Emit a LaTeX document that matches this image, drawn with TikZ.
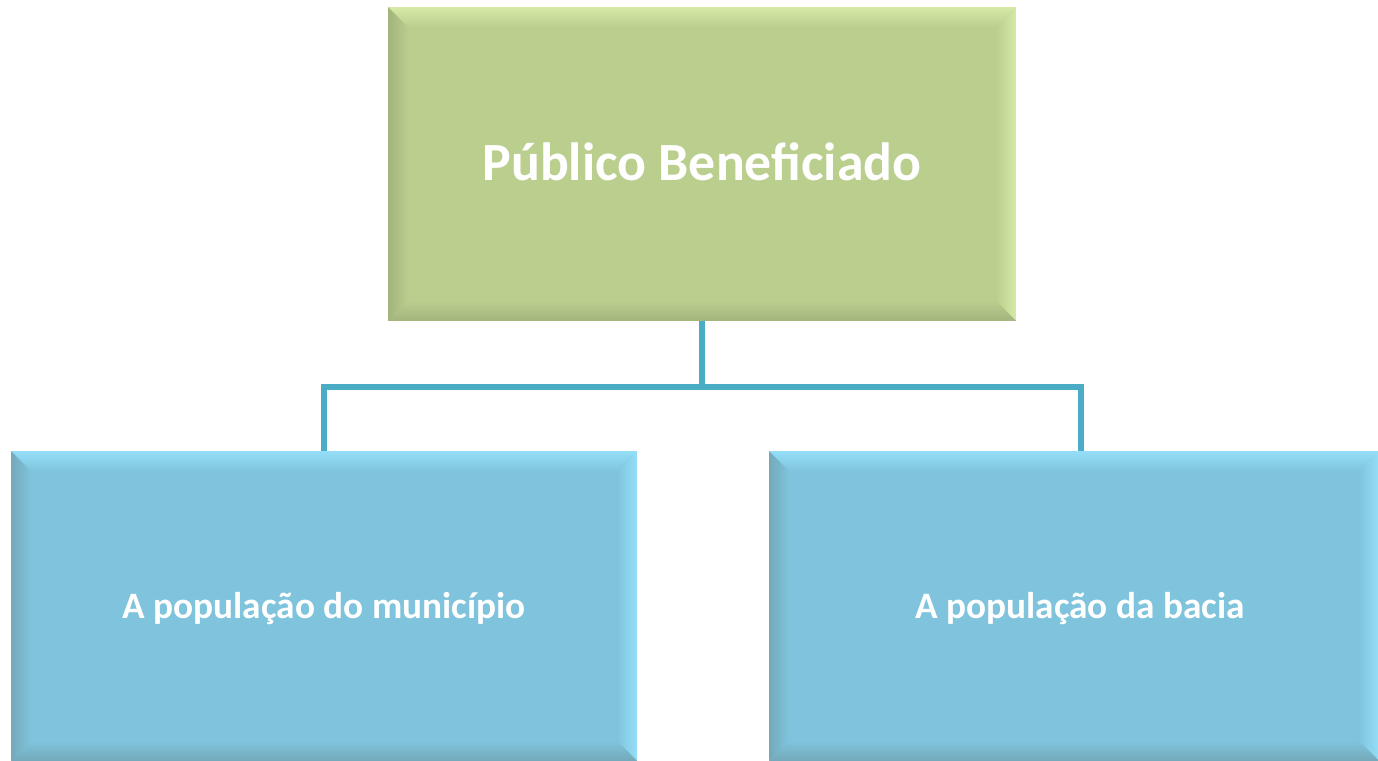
\documentclass[tikz,border=0pt]{standalone}
\usepackage{fontspec}
\setmainfont{Carlito}
\usetikzlibrary{calc}

\definecolor{leafmain}{HTML}{BACE8E}
\definecolor{leaflight}{HTML}{D6EAA6}
\definecolor{leafdark}{HTML}{A3B47C}
\definecolor{skymain}{HTML}{7FC4DC}
\definecolor{skylight}{HTML}{95DEF8}
\definecolor{skydark}{HTML}{74A9BA}
\definecolor{linkline}{HTML}{4BACC6}

\tikzset{
  boxbase/.style={rectangle, inner sep=0pt, text=white, draw=gray!30, line width=0.4pt},
  headbox/.style={boxbase, fill=leafmain, minimum width=6.26cm, minimum height=3.12cm,
    font=\bfseries\fontsize{15.3}{18}\selectfont},
  itembox/.style={boxbase, fill=skymain, minimum height=3.08cm,
    font=\bfseries\fontsize{10.6}{12}\selectfont},
  link/.style={linkline, line width=1.45pt}
}

% bevel round a box: node, light colour, dark colour, main colour
\newcommand{\bevelbox}[4]{%
  \shade[top color=#2, bottom color=#4] (#1.north west) -- (#1.north east)
    -- ($(#1.north east)+(-20,20)$) -- ($(#1.north west)+(20,20)$) -- cycle;
  \shade[left color=#4, right color=#2] (#1.north east) -- (#1.south east)
    -- ($(#1.south east)+(-20,-20)$) -- ($(#1.north east)+(-20,20)$) -- cycle;
  \shade[top color=#4, bottom color=#3] (#1.south west) -- (#1.south east)
    -- ($(#1.south east)+(-20,-20)$) -- ($(#1.south west)+(20,-20)$) -- cycle;
  \shade[left color=#3, right color=#4] (#1.north west) -- (#1.south west)
    -- ($(#1.south west)+(20,-20)$) -- ($(#1.north west)+(20,20)$) -- cycle;
}

\begin{document}
\begin{tikzpicture}[x=0.01cm, y=-0.01cm]
  \useasboundingbox (0,0) rectangle (1378,760);

  % boxes
  \node[headbox] (head) at (702,164) {};
  \node[itembox, minimum width=6.24cm] (city) at (324,606) {};
  \node[itembox, minimum width=6.08cm] (basin) at (1074,606) {};

  \bevelbox{head}{leaflight}{leafdark}{leafmain}
  \bevelbox{city}{skylight}{skydark}{skymain}
  \bevelbox{basin}{skylight}{skydark}{skymain}

  % labels
  \node[headbox, fill=none, draw=none] at (702,162) {Público Beneficiado};
  \node[itembox, fill=none, draw=none] at (324,609) {A população do município};
  \node[itembox, fill=none, draw=none] at (1080,609) {A população da bacia};

  % connectors
  \coordinate (fork) at (702,387);
  \draw[link] (head.south) -- (fork) -| (city.north);
  \draw[link] (fork) -| ($(basin.north)+(7,0)$);
\end{tikzpicture}
\end{document}
